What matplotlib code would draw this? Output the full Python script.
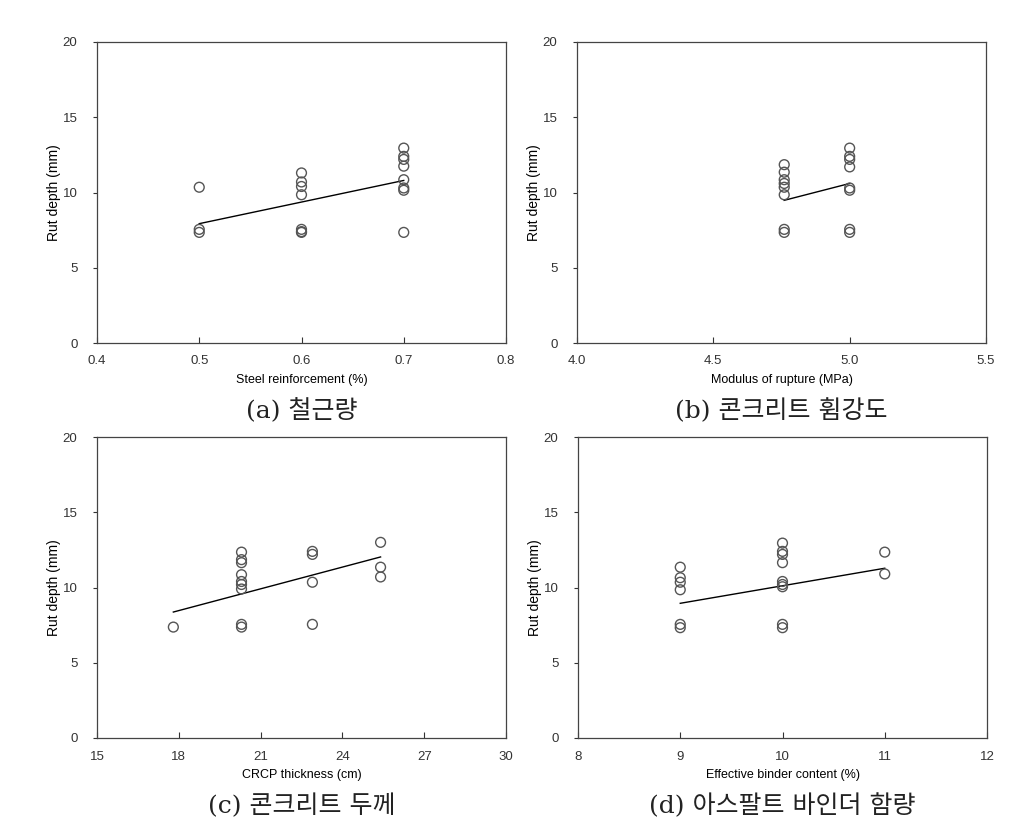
import numpy as np
import matplotlib
matplotlib.use("Agg")
import matplotlib.pyplot as plt

plt.rcParams['font.family'] = ['Liberation Sans', 'DejaVu Sans']

# (a) steel reinforcement
steel_x = [0.5, 0.5, 0.5,
           0.6, 0.6, 0.6, 0.6, 0.6, 0.6, 0.6,
           0.7, 0.7, 0.7, 0.7, 0.7, 0.7, 0.7, 0.7]
steel_y = [10.35, 7.55, 7.35,
           11.3, 10.7, 10.4, 9.85, 7.55, 7.4, 7.35,
           12.95, 12.4, 12.2, 11.75, 10.85, 10.3, 10.15, 7.35]
steel_trend_x = [0.5, 0.7]
steel_trend_y = [7.93, 10.8]

# (b) modulus of rupture
mor_x = [4.76] * 8 + [5.0] * 8
mor_y = [11.85, 11.35, 10.85, 10.6, 10.35, 9.85, 7.55, 7.35,
         12.95, 12.4, 12.2, 11.7, 10.3, 10.15, 7.55, 7.35]
mor_trend_x = [4.76, 5.0]
mor_trend_y = [9.48, 10.6]

# (c) CRCP thickness
thk_x = [17.8] + [20.3] * 9 + [22.9] * 4 + [25.4] * 3
thk_y = [7.37,
         12.35, 11.85, 11.65, 10.85, 10.4, 10.2, 9.9, 7.55, 7.37,
         12.4, 12.2, 10.35, 7.55,
         13.0, 11.35, 10.7]
thk_trend_x = [17.8, 25.4]
thk_trend_y = [8.37, 12.03]

# (d) effective binder content
bnd_x = [9] * 6 + [10] * 9 + [11] * 2
bnd_y = [11.35, 10.65, 10.35, 9.85, 7.55, 7.33,
         12.95, 12.4, 12.2, 11.65, 10.4, 10.2, 10.05, 7.55, 7.33,
         12.35, 10.9]
bnd_trend_x = [9, 11]
bnd_trend_y = [8.95, 11.28]

panels = [
    (steel_x, steel_y, steel_trend_x, steel_trend_y,
     (0.4, 0.8), [0.4, 0.5, 0.6, 0.7, 0.8], ['0.4', '0.5', '0.6', '0.7', '0.8'],
     'Steel reinforcement (%)', '(a) 철근량', [97, 42]),
    (mor_x, mor_y, mor_trend_x, mor_trend_y,
     (4.0, 5.5), [4.0, 4.5, 5.0, 5.5], ['4.0', '4.5', '5.0', '5.5'],
     'Modulus of rupture (MPa)', '(b) 콘크리트 휨강도', [577, 42]),
    (thk_x, thk_y, thk_trend_x, thk_trend_y,
     (15, 30), [15, 18, 21, 24, 27, 30], ['15', '18', '21', '24', '27', '30'],
     'CRCP thickness (cm)', '(c) 콘크리트 두께', [97, 437]),
    (bnd_x, bnd_y, bnd_trend_x, bnd_trend_y,
     (8, 12), [8, 9, 10, 11, 12], ['8', '9', '10', '11', '12'],
     'Effective binder content (%)', '(d) 아스팔트 바인더 함량', [578, 437]),
]

W, H = 1021, 836
fig = plt.figure(figsize=(W / 100, H / 100), dpi=100)
aw, ah = 409, 301

for xs, ys, tx, ty, xlim, xt, xtl, xlab, cap, (px, py) in panels:
    ax = fig.add_axes([px / W, 1 - (py + ah) / H, aw / W, ah / H])
    ax.plot(tx, ty, color='black', lw=1.0, zorder=2)
    ax.scatter(xs, ys, s=50, facecolors='none', edgecolors='#555555',
               linewidths=1.0, zorder=3)
    ax.set_xlim(*xlim)
    ax.set_ylim(0, 20)
    ax.set_xticks(xt)
    ax.set_xticklabels(xtl)
    ax.set_yticks([0, 5, 10, 15, 20])
    ax.tick_params(axis='x', direction='in', length=4, width=0.8,
                   labelsize=9.5, colors='#333333', pad=9)
    ax.tick_params(axis='y', direction='out', length=3, width=0.8,
                   labelsize=9.5, colors='#333333', pad=11)
    for sp in ax.spines.values():
        sp.set_color('#444444')
        sp.set_linewidth(0.9)
    ax.set_xlabel(xlab, fontsize=9, color='black', labelpad=5)
    ax.set_ylabel('Rut depth (mm)', fontsize=10, color='black', labelpad=1)
    ax.text(0.5, -0.185, cap, transform=ax.transAxes, ha='center', va='top',
            fontsize=18, family=['DejaVu Serif', 'Noto Sans CJK KR'],
            color='#222222')

fig.savefig('out.png', dpi=100, facecolor='white')
